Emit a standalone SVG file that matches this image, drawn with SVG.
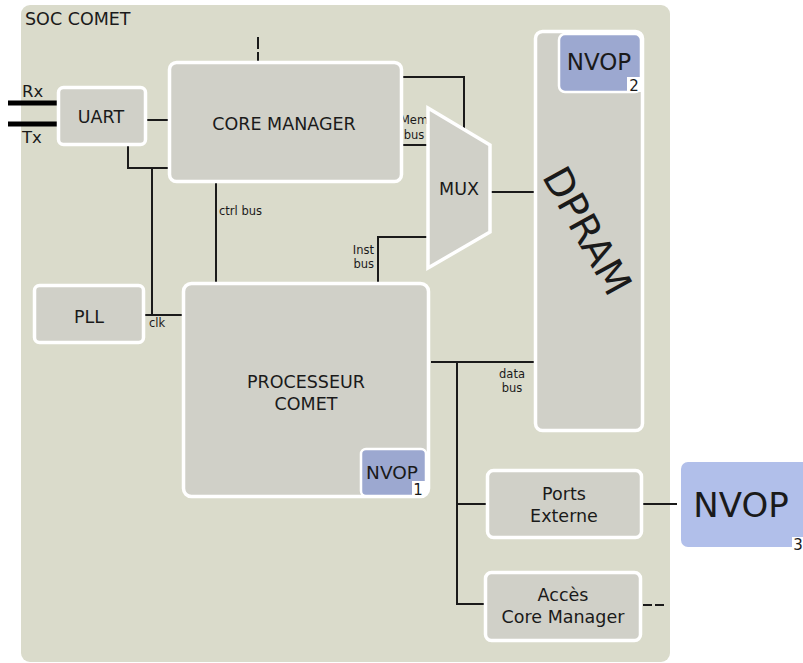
<svg xmlns="http://www.w3.org/2000/svg" width="803" height="663" viewBox="0 0 803 663">
<style>
text{font-family:"DejaVu Sans","Liberation Sans",sans-serif;fill:#1a1a1a}
.node{fill:#d0d0c8;stroke:#ffffff;stroke-width:3.5}
.nvop{fill:#9ca8d0;stroke:#ffffff;stroke-width:2.5}
.w{stroke:#1a1a1a;stroke-width:2;fill:none}
.lbl{font-size:17.5px;text-anchor:middle}
.sm{font-size:11.5px;text-anchor:middle}
.dg{font-size:15px;text-anchor:middle}
</style>
<rect x="21" y="5" width="649" height="657" rx="9" fill="#dadbcb"/>
<text x="25" y="25" style="font-size:17.5px">SOC COMET</text>

<g id="connectors">
  <line x1="8" y1="103" x2="57" y2="103" stroke="#000" stroke-width="5"/>
  <line x1="8" y1="124" x2="57" y2="124" stroke="#000" stroke-width="5"/>
  <line class="w" x1="147" y1="120" x2="168" y2="120"/>
  <polyline class="w" points="128,146 128,168 168,168"/>
  <line class="w" x1="152" y1="168" x2="152" y2="315"/>
  <line class="w" x1="145" y1="315" x2="182" y2="315"/>
  <line class="w" x1="258" y1="37" x2="258" y2="61" stroke-dasharray="12 3"/>
  <line class="w" x1="216" y1="183" x2="216" y2="283"/>
  <polyline class="w" points="403,77 464,77 464,128"/>
  <line class="w" x1="403" y1="145" x2="428" y2="145"/>
  <line class="w" x1="490" y1="192" x2="534" y2="192"/>
  <polyline class="w" points="378,283 378,237 428,237"/>
  <line class="w" x1="431" y1="362" x2="534" y2="362"/>
  <polyline class="w" points="457,362 457,604 484,604"/>
  <line class="w" x1="457" y1="504" x2="486" y2="504"/>
  <line class="w" x1="643" y1="504" x2="677" y2="504"/>
  <line class="w" x1="643" y1="605" x2="665" y2="605" stroke-dasharray="9 3"/>
  <text x="22" y="97" style="font-size:16.5px">Rx</text>
  <text x="22" y="143" style="font-size:16.5px">Tx</text>
  <text x="149" y="327" style="font-size:11.5px">clk</text>
  <text x="219" y="215" style="font-size:11.5px">ctrl bus</text>
  <text x="414" y="124" class="sm">Mem</text>
  <text x="414" y="139" class="sm">bus</text>
  <text x="374" y="254" style="font-size:11.5px;text-anchor:end">Inst</text>
  <text x="374" y="268" style="font-size:11.5px;text-anchor:end">bus</text>
  <text x="512" y="378" class="sm">data</text>
  <text x="512" y="392" class="sm">bus</text>
</g>

<g id="uart">
  <rect class="node" x="58.5" y="87.5" width="87" height="57" rx="5"/>
  <text x="101" y="123" class="lbl">UART</text>
</g>
<g id="core-manager">
  <rect class="node" x="169.5" y="62.5" width="232" height="119" rx="7"/>
  <text x="284" y="130" class="lbl">CORE MANAGER</text>
</g>
<g id="pll">
  <rect class="node" x="34.5" y="285.5" width="109" height="57" rx="5"/>
  <text x="89" y="323" class="lbl">PLL</text>
</g>
<g id="processeur">
  <rect class="node" x="183.5" y="283.5" width="245" height="213" rx="8"/>
  <text x="306" y="388" class="lbl">PROCESSEUR</text>
  <text x="306" y="410" class="lbl">COMET</text>
</g>
<g id="nvop1">
  <rect class="nvop" x="361" y="449" width="65" height="47" rx="5"/>
  <text x="392" y="479" style="font-size:18.5px;text-anchor:middle">NVOP</text>
  <rect x="412" y="481" width="14" height="15" fill="#ffffff"/>
  <text x="418" y="495" class="dg">1</text>
</g>
<g id="mux">
  <polygon class="node" points="428,108 490,145 490,232 428,268"/>
  <text x="459" y="195" class="lbl">MUX</text>
</g>
<g id="dpram">
  <rect class="node" x="535.5" y="31.5" width="107" height="399" rx="7"/>
  <text x="0" y="0" transform="translate(587,231) rotate(61)" style="font-size:39px;text-anchor:middle;dominant-baseline:central">DPRAM</text>
</g>
<g id="nvop2">
  <rect class="nvop" x="559" y="34" width="82" height="58" rx="6"/>
  <text x="599" y="70" style="font-size:23px;text-anchor:middle">NVOP</text>
  <rect x="627" y="77" width="14" height="15" fill="#ffffff"/>
  <text x="634" y="91" class="dg">2</text>
</g>
<g id="ports-externe">
  <rect class="node" x="487.5" y="470.5" width="154" height="67" rx="6"/>
  <text x="564" y="500" class="lbl">Ports</text>
  <text x="564" y="522" class="lbl">Externe</text>
</g>
<g id="acces-core-manager">
  <rect class="node" x="485.5" y="572.5" width="155" height="68" rx="6"/>
  <text x="563" y="601" class="lbl">Accès</text>
  <text x="563" y="623" class="lbl">Core Manager</text>
</g>
<g id="nvop3">
  <rect x="681" y="462" width="130" height="85" rx="7" fill="#b1bfea"/>
  <text x="741" y="517" style="font-size:34px;text-anchor:middle">NVOP</text>
  <rect x="792" y="537" width="11" height="14" fill="#ffffff"/>
  <text x="798" y="550" class="dg">3</text>
</g>
</svg>
